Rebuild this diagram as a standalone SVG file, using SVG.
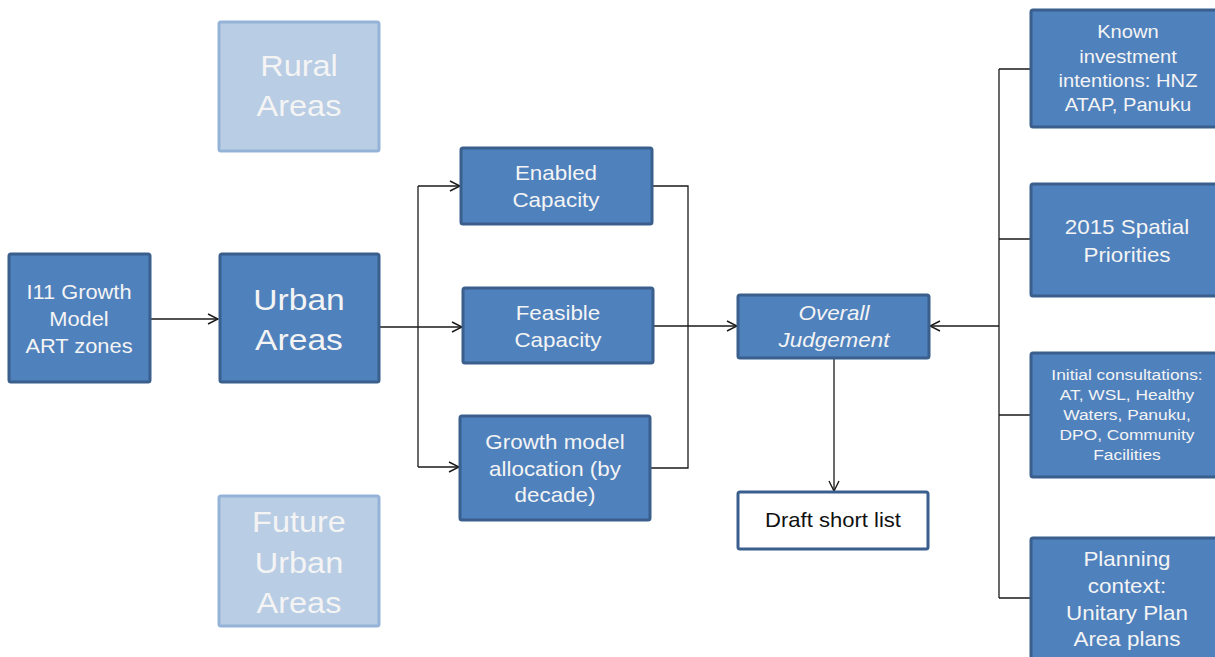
<svg xmlns="http://www.w3.org/2000/svg" width="1215" height="657" viewBox="0 0 1215 657">
<style>
.b{fill:#4f81bd;stroke:#3a5f8c;stroke-width:3}
.l{fill:#b9cde5;stroke:#95b3d7;stroke-width:3}
.w{fill:#ffffff;stroke:#3a5f8c;stroke-width:3}
text{font-family:"Liberation Sans",Arial,sans-serif;fill:#f4f4f4;text-anchor:middle}
.dk{fill:#111111}
.c{fill:none;stroke:#1a1a1a;stroke-width:1.3}
</style>
<defs>
<marker id="a" viewBox="0 0 12 12" refX="11" refY="6" markerWidth="12" markerHeight="12" markerUnits="userSpaceOnUse" orient="auto">
<path d="M1,1 L11,6 L1,11" fill="none" stroke="#1a1a1a" stroke-width="1.4"/>
</marker>
</defs>
<g id="connectors">
<path class="c" d="M151,319 H218" marker-end="url(#a)"/>
<path class="c" d="M380,327 H462" marker-end="url(#a)"/>
<path class="c" d="M418,186 V467"/>
<path class="c" d="M418,186 H460" marker-end="url(#a)"/>
<path class="c" d="M418,467 H459" marker-end="url(#a)"/>
<path class="c" d="M653,186 H688 V468 H651"/>
<path class="c" d="M654,326 H737" marker-end="url(#a)"/>
<path class="c" d="M834,359 V491" marker-end="url(#a)"/>
<path class="c" d="M999,69 V598"/>
<path class="c" d="M999,326 H930" marker-end="url(#a)"/>
<path class="c" d="M999,69 H1030 M999,239 H1030 M999,415 H1030 M999,598 H1030"/>
</g>
<g id="n-i11"><rect class="b" x="9" y="254" width="141" height="128" rx="2"/>
<text font-size="19.5" transform="matrix(1.12,0,0,1,-9.48,0)"><tspan x="79" y="299">I11 Growth</tspan><tspan x="79" y="326">Model</tspan><tspan x="79" y="353">ART zones</tspan></text></g>
<g id="n-urban"><rect class="b" x="220" y="254" width="159" height="128" rx="2"/>
<text font-size="30" transform="matrix(1.12,0,0,1,-35.88,0)"><tspan x="299" y="310">Urban</tspan><tspan x="299" y="350">Areas</tspan></text></g>
<g id="n-rural"><rect class="l" x="219" y="22" width="160" height="129" rx="2"/>
<text font-size="29" transform="matrix(1.12,0,0,1,-35.88,0)"><tspan x="299" y="76">Rural</tspan><tspan x="299" y="116">Areas</tspan></text></g>
<g id="n-future"><rect class="l" x="219" y="496" width="160" height="130" rx="2"/>
<text font-size="29" transform="matrix(1.12,0,0,1,-35.88,0)"><tspan x="299" y="532">Future</tspan><tspan x="299" y="573">Urban</tspan><tspan x="299" y="613">Areas</tspan></text></g>
<g id="n-enabled"><rect class="b" x="461" y="148" width="191" height="76" rx="2"/>
<text font-size="20" transform="matrix(1.12,0,0,1,-66.72,0)"><tspan x="556" y="180">Enabled</tspan><tspan x="556" y="207">Capacity</tspan></text></g>
<g id="n-feasible"><rect class="b" x="463" y="288" width="190" height="75" rx="2"/>
<text font-size="20" transform="matrix(1.12,0,0,1,-66.96,0)"><tspan x="558" y="320">Feasible</tspan><tspan x="558" y="347">Capacity</tspan></text></g>
<g id="n-growth"><rect class="b" x="460" y="416" width="190" height="104" rx="2"/>
<text font-size="20" transform="matrix(1.12,0,0,1,-66.6,0)"><tspan x="555" y="449">Growth model</tspan><tspan x="555" y="476">allocation (by</tspan><tspan x="555" y="502">decade)</tspan></text></g>
<g id="n-overall"><rect class="b" x="738" y="295" width="191" height="63" rx="2"/>
<text font-size="20" font-style="italic" transform="matrix(1.12,0,0,1,-100.08,0)"><tspan x="834" y="320">Overall</tspan><tspan x="834" y="347">Judgement</tspan></text></g>
<g id="n-draft"><rect class="w" x="738" y="492" width="190" height="57" rx="2"/>
<text class="dk" font-size="19.7" x="833" y="527" transform="matrix(1.12,0,0,1,-99.96,0)">Draft short list</text></g>
<g id="n-known"><rect class="b" x="1031" y="10" width="200" height="117" rx="2"/>
<text font-size="18" transform="matrix(1.12,0,0,1,-135.36,0)"><tspan x="1128" y="38">Known</tspan><tspan x="1128" y="63">investment</tspan><tspan x="1128" y="87">intentions: HNZ</tspan><tspan x="1128" y="111">ATAP, Panuku</tspan></text></g>
<g id="n-spatial"><rect class="b" x="1031" y="184" width="200" height="112" rx="2"/>
<text font-size="20" transform="matrix(1.12,0,0,1,-135.24,0)"><tspan x="1127" y="234">2015 Spatial</tspan><tspan x="1127" y="262">Priorities</tspan></text></g>
<g id="n-initial"><rect class="b" x="1031" y="353" width="200" height="124" rx="2"/>
<text font-size="15.5" transform="matrix(1.12,0,0,1,-135.24,0)"><tspan x="1127" y="380">Initial consultations:</tspan><tspan x="1127" y="400">AT, WSL, Healthy</tspan><tspan x="1127" y="420">Waters, Panuku,</tspan><tspan x="1127" y="440">DPO, Community</tspan><tspan x="1127" y="460">Facilities</tspan></text></g>
<g id="n-planning"><rect class="b" x="1031" y="538" width="200" height="130" rx="2"/>
<text font-size="20" transform="matrix(1.12,0,0,1,-135.24,0)"><tspan x="1127" y="566">Planning</tspan><tspan x="1127" y="593">context:</tspan><tspan x="1127" y="620">Unitary Plan</tspan><tspan x="1127" y="646">Area plans</tspan></text></g>
</svg>
